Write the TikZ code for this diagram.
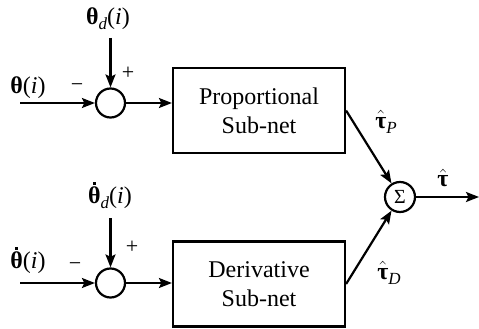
\documentclass[tikz,border=0pt]{standalone}
\usepackage{fontspec}
\setmainfont{Liberation Serif}
\usetikzlibrary{arrows.meta}
\newcommand\bth{\textbf{θ}}
\newcommand\dth{\ooalign{\textbf{θ}\cr\hidewidth\raisebox{19pt}{\rule{3pt}{3pt}}\hidewidth\cr}}
\newcommand\htau{\ensuremath{\hat{\hbox{\bfseries τ}}}}
\newcommand\lsub[1]{\raisebox{-5pt}{\fontsize{17}{17}\selectfont\itshape #1}}
\begin{document}
\begin{tikzpicture}[x=1pt,y=-1pt,line width=2.2pt,
  font=\fontsize{24}{29}\selectfont,
  arr/.style={-{Stealth[length=13pt,width=10pt,inset=2.5pt]}},
  sumc/.style={circle,draw,minimum size=29pt,inner sep=0pt},
  block/.style={draw,minimum width=172pt,minimum height=85pt,align=center,inner sep=0pt},
  lbl/.style={inner sep=0pt},
  sgn/.style={inner sep=0pt,font=\fontsize{22}{22}\selectfont}]
\useasboundingbox (0,0) rectangle (479,329);
% blocks
\node[block] (P) at (259,110.5) {Proportional\\Sub-net};
\node[block] (D) at (259,284) {Derivative\\Sub-net};
\node[sumc] (s1) at (110.5,103) {};
\node[sumc] (s2) at (110.5,283) {};
\node[sumc,minimum size=30pt] (S) at (400,197) {\fontsize{20}{20}\selectfont Σ};
% free ends
\coordinate (in1) at (20,103);
\coordinate (in2) at (20,283);
\coordinate (r1) at (110.5,38);
\coordinate (r2) at (110.5,218);
\coordinate (out) at (479,197);
% connectors
\draw[arr] (in1) -- (s1);
\draw[arr] (r1) -- (s1);
\draw[arr] (s1) -- (s1 -| P.west);
\draw[arr] (in2) -- (s2);
\draw[arr] (r2) -- (s2);
\draw[arr] (s2) -- (s2 -| D.west);
\draw[arr] (P.east) -- (S);
\draw[arr] (D.east) -- (S);
\draw[arr] (S) -- (out);
% labels
\node[lbl] (l1) at (28,88) {\bth(\textit{i})};
\node[lbl] (l2) at (108,19) {\bth\lsub{d}(\textit{i})};
\node[lbl] (l3) at (28,263) {\dth(\textit{i})};
\node[lbl] (l4) at (110,198) {\dth\lsub{d}(\textit{i})};
\node[sgn] (m1) at (77,88) {−};
\node[sgn] (p1) at (128,73) {+};
\node[sgn] (m2) at (75,267) {−};
\node[sgn] (p2) at (132,247) {+};
\node[lbl] (tp) at (386,122) {\htau\lsub{P}};
\node[lbl] (td) at (389,273) {\htau\lsub{D}};
\node[lbl] (t) at (443,178) {\htau};
\end{tikzpicture}
\end{document}
